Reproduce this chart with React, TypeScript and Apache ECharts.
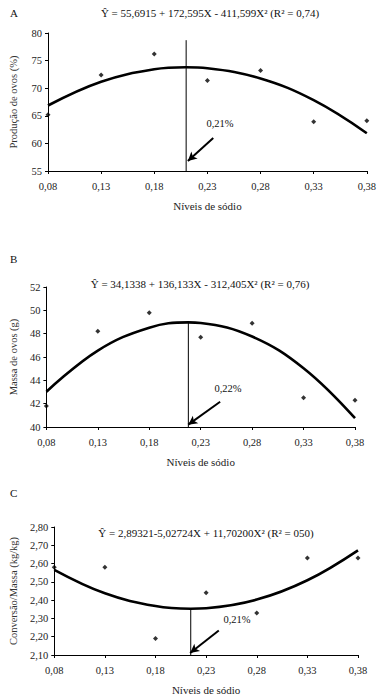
import React, { useEffect, useRef } from "react";
import * as echarts from "echarts";

// Sodium levels (x)
const xLevels = [0.08, 0.13, 0.18, 0.23, 0.28, 0.33, 0.38];
const xTicks = [0.08, 0.13, 0.18, 0.23, 0.28, 0.33, 0.38];

// Observed means
const prodA = [65.2, 72.4, 76.2, 71.4, 73.2, 63.9, 64.1];
const massB = [41.8, 48.2, 49.8, 47.7, 48.9, 42.5, 42.3];
const convC = [2.58, 2.58, 2.19, 2.44, 2.33, 2.63, 2.63];

// Fitted regression curves (values read at levels + vertex)
const curveXA = [0.08, 0.13, 0.18, 0.2097, 0.23, 0.28, 0.33, 0.38];
const curveA = [66.865, 71.173, 73.423, 73.785, 73.615, 71.749, 67.825, 61.843];
const curveXB = [0.08, 0.13, 0.18, 0.2179, 0.23, 0.28, 0.33, 0.38];
const curveB = [43.025, 46.551, 48.516, 48.964, 48.918, 47.758, 45.037, 40.753];
const curveXC = [0.08, 0.13, 0.18, 0.2148, 0.23, 0.28, 0.33, 0.38];
const curveC = [2.5659, 2.4374, 2.3675, 2.3533, 2.356, 2.403, 2.5086, 2.6726];

// Optimum level markers: [x, yBottom, yTop]
const optA = [0.21, 55, 78.7];
const optB = [0.218, 40, 49.0];
const optC = [0.2148, 2.1, 2.3533];

// Arrows: [x1, y1, x2, y2]
const arrowA = [0.2355, 60.98, 0.2116, 56.8];
const arrowB = [0.2489, 42.16, 0.2179, 40.2];
const arrowC = [0.2425, 2.234, 0.2142, 2.111];

const titles = [
  "Ŷ = 55,6915 + 172,595X - 411,599X² (R² = 0,74)",
  "Ŷ = 34,1338 + 136,133X - 312,405X² (R² = 0,76)",
  "Ŷ = 2,89321-5,02724X + 11,70200X² (R² = 050)",
];
const yNames = ["Produção de ovos (%)", "Massa de ovos (g)", "Conversão/Massa (kg/kg)"];
const optLabels = ["0,21%", "0,22%", "0,21%"];
const xName = "Níveis de sódio";

const FONT = "Liberation Serif";

const fmt = (d: number) => (v: number) => v.toFixed(d).replace(".", ",");

export default function App() {
  const ref = useRef<HTMLDivElement>(null);
  useEffect(() => {
    if (!ref.current) return;
    const chart = echarts.init(ref.current, null, { renderer: "svg" });
    const grids = [
      { left: 41, top: 33, width: 326, height: 138 },
      { left: 46, top: 287, width: 309, height: 140 },
      { left: 46, top: 527, width: 312, height: 128 },
    ];
    const yCfg = [
      { min: 55, max: 80, interval: 5, dec: 0, gap: 29 },
      { min: 40, max: 52, interval: 2, dec: 0, gap: 27 },
      { min: 2.1, max: 2.8, interval: 0.1, dec: 2, gap: 32 },
    ];
    const scat = [prodA, massB, convC];
    const cx = [curveXA, curveXB, curveXC];
    const cy = [curveA, curveB, curveC];
    const opts = [optA, optB, optC];
    const arrows = [arrowA, arrowB, arrowC];

    const xAxis = grids.map((_, i) => ({
      type: "value",
      gridIndex: i,
      min: 0.08,
      max: 0.38,
      name: xName,
      nameLocation: "middle",
      nameGap: 29,
      nameTextStyle: { fontFamily: FONT, fontSize: 11, color: "#222" },
      axisLine: { show: true, lineStyle: { color: "#000", width: 1 } },
      axisTick: { show: true, length: 3, customValues: xTicks, lineStyle: { color: "#000" } },
      axisLabel: {
        customValues: xTicks,
        formatter: fmt(2),
        fontFamily: FONT,
        fontSize: 10.5,
        color: "#222",
        margin: 10,
      },
      splitLine: { show: false },
    }));
    const yAxis = grids.map((_, i) => ({
      type: "value",
      gridIndex: i,
      min: yCfg[i].min,
      max: yCfg[i].max,
      interval: yCfg[i].interval,
      name: yNames[i],
      nameLocation: "middle",
      nameGap: yCfg[i].gap,
      nameTextStyle: { fontFamily: FONT, fontSize: 10.5, color: "#333" },
      axisLine: { show: true, lineStyle: { color: "#000", width: 1 } },
      axisTick: { show: true, length: 3, lineStyle: { color: "#000" } },
      axisLabel: { formatter: fmt(yCfg[i].dec), fontFamily: FONT, fontSize: 10.5, color: "#222", margin: 6 },
      splitLine: { show: false },
    }));
    const series: any[] = [];
    grids.forEach((_, i) => {
      series.push({
        type: "line",
        xAxisIndex: i,
        yAxisIndex: i,
        data: cx[i].map((x, k) => [x, cy[i][k]]),
        smooth: 0.4,
        showSymbol: false,
        lineStyle: { color: "#000", width: 2.6 },
        z: 3,
      });
      series.push({
        type: "line",
        xAxisIndex: i,
        yAxisIndex: i,
        data: [
          [opts[i][0], opts[i][1]],
          [opts[i][0], opts[i][2]],
        ],
        showSymbol: false,
        lineStyle: { color: "#000", width: 1 },
        markLine: {
          silent: true,
          symbol: ["none", "arrow"],
          symbolSize: [7, 9],
          label: { show: false },
          lineStyle: { color: "#000", width: 2, type: "solid" },
          data: [
            [
              { coord: [arrows[i][0], arrows[i][1]] },
              { coord: [arrows[i][2], arrows[i][3]] },
            ],
          ],
        },
        z: 2,
      });
      series.push({
        type: "scatter",
        xAxisIndex: i,
        yAxisIndex: i,
        data: xLevels.map((x, k) => [x, scat[i][k]]),
        symbol: "diamond",
        symbolSize: 5,
        itemStyle: { color: "#000" },
        z: 4,
      });
    });
    const txt = (x: number, y: number, text: string, size = 11, align = "center") => ({
      type: "text",
      x,
      y,
      style: { text, fontFamily: FONT, fontSize: size, fill: "#111", align, verticalAlign: "middle" },
    });
    chart.setOption({
      animation: false,
      backgroundColor: "#fff",
      grid: grids,
      xAxis,
      yAxis,
      series,
      graphic: [
        txt(10, 13, "A", 11, "left"),
        txt(210, 13, titles[0]),
        txt(10, 259, "B", 11, "left"),
        txt(200, 284, titles[1]),
        txt(10, 493, "C", 11, "left"),
        txt(206, 533, titles[2]),
        txt(220, 123, optLabels[0], 10.5),
        txt(228, 388, optLabels[1], 10.5),
        txt(237, 619, optLabels[2], 10.5),
      ],
    });
    return () => chart.dispose();
  }, []);
  return <div ref={ref} style={{ position: "fixed", left: 0, top: 0, width: 379, height: 700 }} />;
}
